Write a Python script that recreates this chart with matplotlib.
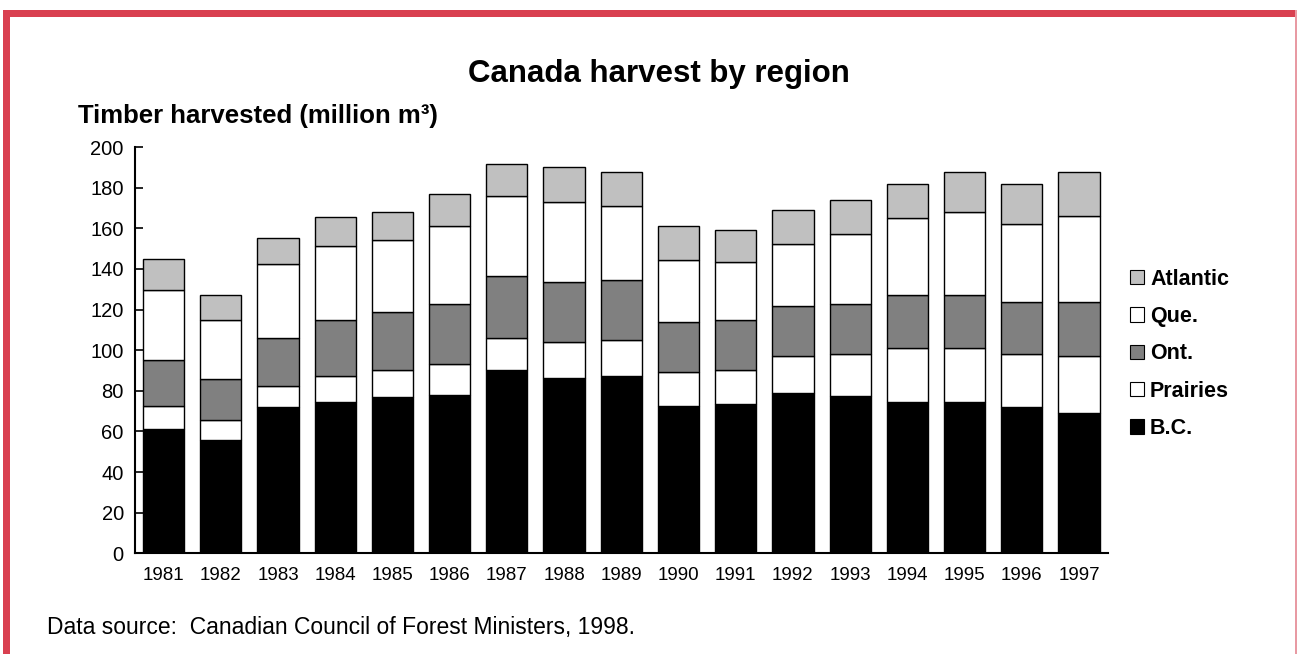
import matplotlib.pyplot as plt
from matplotlib.patches import Patch, Rectangle
import numpy as np

years = ['1981', '1982', '1983', '1984', '1985', '1986', '1987', '1988', '1989',
         '1990', '1991', '1992', '1993', '1994', '1995', '1996', '1997']
bc = [61, 56, 72, 74.7, 76.8, 77.8, 90.5, 86.5, 87.5, 72.7, 73.7, 78.7, 77.7, 74.7, 74.7, 72, 69]
prairies = [11.4, 9.7, 10.4, 12.7, 13.5, 15.5, 15.5, 17.5, 17.5, 16.6, 16.6, 18.5, 20.3, 26.4, 26.4, 26.2, 28.2]
ont = [23, 20, 23.6, 27.6, 28.7, 29.5, 30.6, 29.8, 29.8, 24.7, 24.7, 24.6, 24.8, 25.9, 25.9, 25.4, 26.4]
que = [34.3, 29.3, 36.5, 36.4, 35.4, 38.2, 39.4, 39.4, 36.2, 30.5, 28.5, 30.6, 34.5, 38.2, 41, 38.6, 42.6]
atlantic = [15, 12, 12.8, 14, 13.9, 16, 15.8, 16.8, 16.7, 16.5, 15.9, 16.6, 16.9, 16.8, 19.7, 19.8, 21.5]

regions = ['B.C.', 'Prairies', 'Ont.', 'Que.', 'Atlantic']
colors = ['#000000', '#ffffff', '#808080', '#ffffff', '#c0c0c0']

plt.rcParams['font.family'] = ['Liberation Sans', 'DejaVu Sans']

fig = plt.figure(figsize=(12.97, 6.54), dpi=100)
ax = fig.add_axes([0.104, 0.154, 0.750, 0.621])

x = np.arange(len(years))
bottom = np.zeros(len(years))
for name, vals, c in zip(regions, [bc, prairies, ont, que, atlantic], colors):
    ax.bar(x, vals, 0.72, bottom=bottom, color=c, edgecolor='black', linewidth=1, label=name)
    bottom += np.array(vals)

ax.set_xlim(-0.5, len(years) - 0.5)
ax.set_ylim(0, 200)
ax.set_yticks(range(0, 201, 20))
ax.set_xticks(x)
ax.set_xticklabels(years)
ax.tick_params(axis='y', direction='in', length=6, width=1.2, labelsize=14.5, pad=8)
ax.tick_params(axis='x', length=0, labelsize=13.5, pad=10)
for s in ['top', 'right']:
    ax.spines[s].set_visible(False)
for s in ['left', 'bottom']:
    ax.spines[s].set_linewidth(1.5)

handles = [Patch(facecolor=c, edgecolor='black', linewidth=0.8) for c in colors]
leg = fig.legend(handles[::-1], regions[::-1], loc='center left', bbox_to_anchor=(0.856, 0.459),
                 frameon=False, handlelength=0.65, handleheight=0.65, handletextpad=0.3,
                 labelspacing=0.76, prop={'weight': 'bold', 'size': 15.5})

fig.text(0.508, 0.887, 'Canada harvest by region', ha='center', va='center',
         fontsize=22.5, fontweight='bold')
fig.text(0.06, 0.823, 'Timber harvested (million m³)', ha='left', va='center',
         fontsize=18.5, fontweight='bold')
fig.text(0.036, 0.04, 'Data source:  Canadian Council of Forest Ministers, 1998.',
         ha='left', va='center', fontsize=16.5)

# red frame
red = '#d94050'
fig.patches.append(Rectangle((3 / 1297, 1 - 17 / 654), 1, 7 / 654, transform=fig.transFigure,
                             facecolor=red, edgecolor='none'))
fig.patches.append(Rectangle((3 / 1297, 0), 7 / 1297, 1 - 10 / 654, transform=fig.transFigure,
                             facecolor=red, edgecolor='none'))
fig.patches.append(Rectangle((1295 / 1297, 0), 1.5 / 1297, 1 - 10 / 654, transform=fig.transFigure,
                             facecolor='#e89aa3', edgecolor='none'))

fig.savefig('out.png', dpi=100)
